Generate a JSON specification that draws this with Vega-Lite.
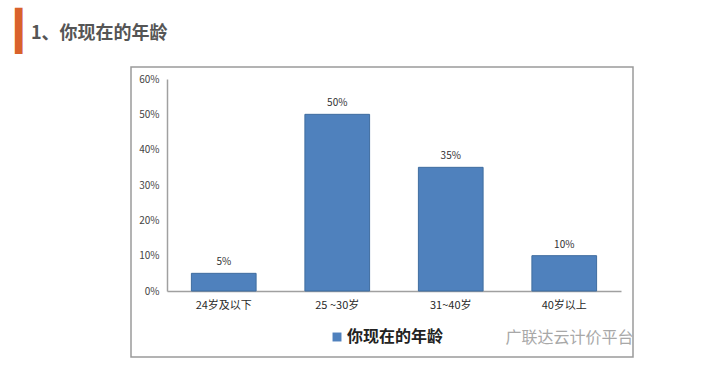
{
  "$schema": "https://vega.github.io/schema/vega-lite/v6.json",
  "autosize": {"type": "none"},
  "width": 502,
  "height": 290,
  "padding": {"left": 131, "top": 67, "right": 84, "bottom": 21},
  "background": "white",
  "title": {
    "text": "1、你现在的年龄",
    "anchor": "start",
    "frame": "group",
    "dx": -100,
    "offset": 0,
    "dy": 31,
    "font": "Noto Sans CJK SC",
    "fontSize": 18,
    "fontWeight": "bold",
    "color": "#555555"
  },
  "config": {
    "view": {"stroke": "#9a9a9a", "strokeWidth": 1.5},
    "font": "Noto Sans CJK SC"
  },
  "data": {
    "values": [
      {"age": "24岁及以下", "share": 0.05, "label": "5%", "series": "你现在的年龄"},
      {"age": "25 ~30岁", "share": 0.50, "label": "50%", "series": "你现在的年龄"},
      {"age": "31~40岁", "share": 0.35, "label": "35%", "series": "你现在的年龄"},
      {"age": "40岁以上", "share": 0.10, "label": "10%", "series": "你现在的年龄"}
    ]
  },
  "encoding": {
    "x": {
      "field": "age",
      "type": "nominal",
      "sort": null,
      "scale": {"range": [36, 490], "paddingInner": 0.43, "paddingOuter": 0.215},
      "axis": {
        "offset": -66,
        "labelAngle": 0,
        "labelFontSize": 11,
        "labelColor": "#2a2a2a",
        "labelPadding": 8,
        "ticks": false,
        "domainColor": "#a0a0a0",
        "domainWidth": 1.5,
        "title": "广联达云计价平台",
        "titleX": 374,
        "titleY": 46,
        "titleAlign": "left",
        "titleBaseline": "middle",
        "titleFontSize": 16,
        "titleFontWeight": "normal",
        "titleColor": "#a8a8a8"
      }
    },
    "y": {
      "field": "share",
      "type": "quantitative",
      "scale": {"domain": [0, 0.6], "range": [224, 12], "nice": false},
      "axis": {
        "offset": -36,
        "format": ".0%",
        "values": [0, 0.1, 0.2, 0.3, 0.4, 0.5, 0.6],
        "labelOverlap": false,
        "grid": false,
        "ticks": false,
        "labelFontSize": 10,
        "labelColor": "#444444",
        "labelPadding": 8,
        "domainColor": "#a0a0a0",
        "domainWidth": 1.5,
        "title": "▎",
        "titleAngle": 0,
        "titleX": -152,
        "titleY": -55,
        "titleAlign": "left",
        "titleBaseline": "top",
        "titleFont": "DejaVu Sans",
        "titleFontSize": 39,
        "titleFontWeight": "normal",
        "titleColor": "#d9622b"
      }
    }
  },
  "layer": [
    {
      "mark": {"type": "bar", "stroke": "#3f6d9f", "strokeWidth": 1},
      "encoding": {
        "color": {
          "field": "series",
          "type": "nominal",
          "scale": {"range": ["#4f81bd"]},
          "legend": {
            "title": null,
            "orient": "none",
            "legendX": 198,
            "legendY": 262,
            "symbolType": "square",
            "symbolSize": 80,
            "symbolStrokeWidth": 0,
            "labelOffset": 2,
            "labelFontSize": 16,
            "labelFontWeight": "bold",
            "labelColor": "#222222"
          }
        }
      }
    },
    {
      "mark": {"type": "text", "dy": -11, "fontSize": 10, "color": "#333333"},
      "encoding": {"text": {"field": "label"}}
    }
  ]
}
